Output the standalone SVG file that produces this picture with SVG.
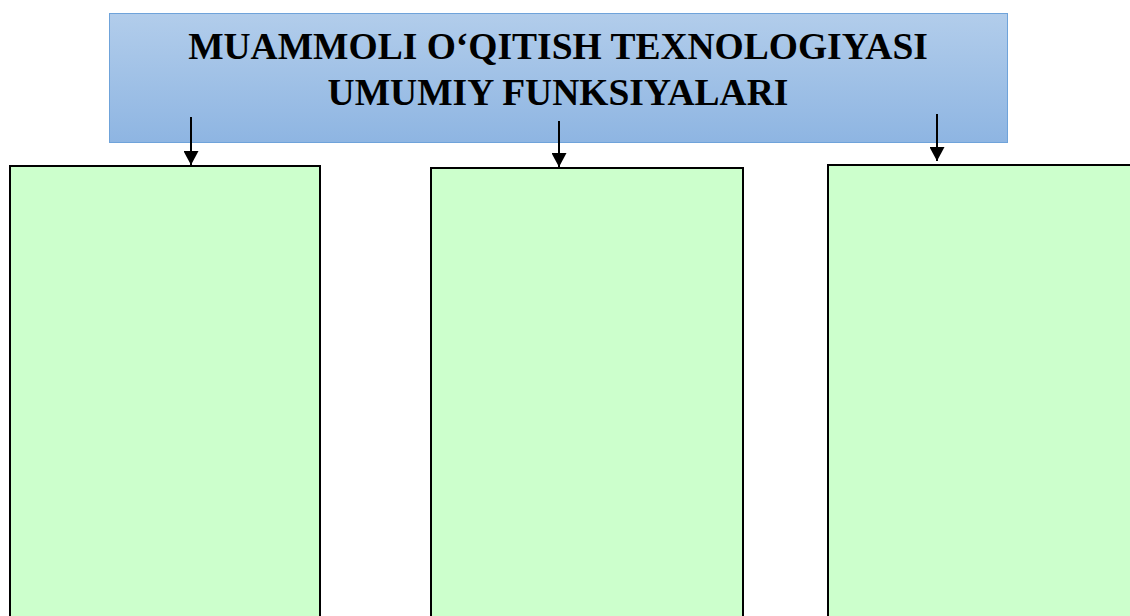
<svg xmlns="http://www.w3.org/2000/svg" width="1130" height="616" viewBox="0 0 1130 616">
<style>
.t{font-family:"Liberation Serif","Times New Roman",serif;font-weight:bold;font-size:37.5px;fill:#000;text-anchor:middle}
.box{fill:#ccffcc;stroke:#000;stroke-width:2}
.c{stroke:#000;stroke-width:2;fill:none}
</style>
<defs>
<linearGradient id="g" x1="0" y1="0" x2="0" y2="1">
<stop offset="0" stop-color="#b2cdeb"/>
<stop offset="1" stop-color="#8eb5e2"/>
</linearGradient>
<marker id="a" viewBox="0 0 10 10" refX="10" refY="5" markerWidth="14" markerHeight="15" markerUnits="userSpaceOnUse" orient="auto" preserveAspectRatio="none">
<path d="M0,0L10,5L0,10Z" fill="#000"/>
</marker>
</defs>
<g id="title">
<rect x="109.5" y="13.5" width="898" height="129" fill="url(#g)" stroke="#6fa3da" stroke-width="1"/>
<text class="t" x="558" y="59">MUAMMOLI O‘QITISH TEXNOLOGIYASI</text>
<text class="t" x="558" y="105">UMUMIY FUNKSIYALARI</text>
</g>
<g id="box1"><rect class="box" x="10" y="166" width="310" height="460"/></g>
<g id="box2"><rect class="box" x="431" y="168" width="312" height="460"/></g>
<g id="box3"><rect class="box" x="828" y="165" width="320" height="460"/></g>
<g id="connectors">
<line class="c" x1="191" y1="117" x2="191" y2="165" marker-end="url(#a)"/>
<line class="c" x1="559" y1="121" x2="559" y2="167" marker-end="url(#a)"/>
<line class="c" x1="937" y1="114" x2="937" y2="161" marker-end="url(#a)"/>
</g>
</svg>
